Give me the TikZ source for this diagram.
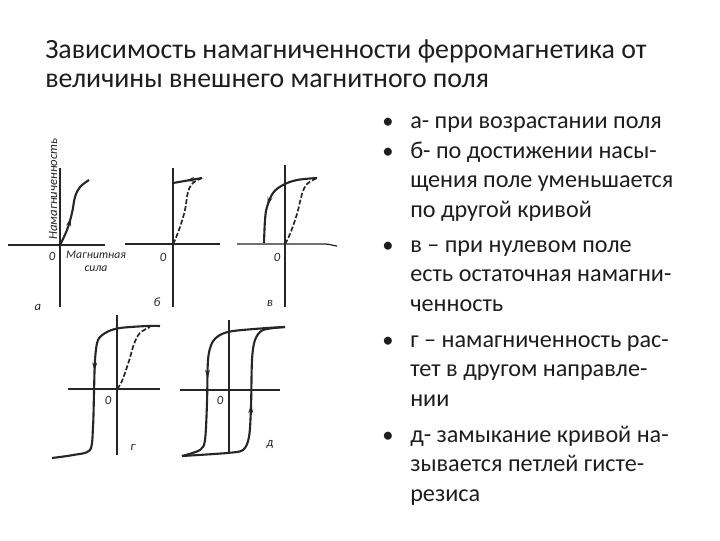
\documentclass[tikz,border=0pt]{standalone}
\usepackage{fontspec}
\setmainfont{Carlito}
\usetikzlibrary{arrows.meta,decorations.markings}
\definecolor{InkDark}{HTML}{1E1E1E}
\definecolor{InkPlot}{HTML}{262626}
\newcommand{\toplines}[1]{\begin{tabular}[t]{@{}l@{}}#1\end{tabular}}
\tikzset{
  titletext/.style={anchor=base west,inner sep=0pt,font=\fontsize{19.8}{21}\selectfont,text=InkDark},
  itemtext/.style={anchor=base west,inner sep=0pt,font=\fontsize{17.2}{21}\selectfont,text=InkDark},
  itemdot/.style={anchor=base west,inner sep=0pt,font=\fontsize{16}{21}\selectfont,text=InkDark},
  axisline/.style={draw=InkPlot,line width=0.9pt},
  loopline/.style={draw=InkPlot,line width=1.5pt},
  riseline/.style={draw=InkPlot,line width=1.2pt,dash pattern=on 3.5pt off 1.5pt},
  plotlabel/.style={inner sep=0pt,font=\itshape\fontsize{9}{10}\selectfont,text=InkPlot},
  midarrow/.style={postaction={decorate},decoration={markings,mark=at position #1 with {\arrow{Stealth[length=6pt,width=3.5pt]}}}}
}
\begin{document}
\begin{tikzpicture}[x=0.025cm,y=-0.025cm]
\fill[white] (0,0) rectangle (720,540);
\useasboundingbox (0,0) rectangle (720,540);
% title
\node[titletext] (title) at (45,58) {\toplines{Зависимость намагниченности ферромагнетика от\\величины внешнего магнитного поля}};
% list on the right
\node[itemtext] (i1) at (410,128) {\toplines{а- при возрастании поля}};
\node[itemtext] (i2) at (410,158) {\toplines{б- по достижении насы-\\щения поле уменьшается\\по другой кривой}};
\node[itemtext] (i3) at (410,252) {\toplines{в – при нулевом поле\\есть остаточная намагни-\\ченность}};
\node[itemtext] (i4) at (410,347) {\toplines{г – намагниченность рас-\\тет в другом направле-\\нии}};
\node[itemtext] (i5) at (410,442) {\toplines{д- замыкание кривой на-\\зывается петлей гисте-\\резиса}};
\foreach \n in {1,...,5}
  \node[itemdot] (d\n) at ([shift={(-28,0)}]i\n.base west) {•};
% graph a
\coordinate (Oa) at (60,245);
\begin{scope}[shift={(Oa)}]
\draw[axisline] (-52,0) -- (45,0);
\draw[axisline] (0,-77) -- (0,62);
\draw[loopline,midarrow=0.4] plot[smooth,tension=0.6] coordinates {(0,0) (7,-15) (12,-32) (15,-48) (20,-58) (29,-65)};
\node[plotlabel,rotate=90] (ya) at (-7,-56) {Намагниченность};
\node[plotlabel] (za) at (-8,11) {0};
\node[plotlabel,align=center,font=\itshape\fontsize{8.3}{9}\selectfont] (xa) at (36,16) {Магнитная\\сила};
\node[plotlabel] (la) at (-22,62) {а};
\end{scope}
% graph b
\coordinate (Ob) at (173,244);
\begin{scope}[shift={(Ob)}]
\draw[axisline] (-48,0) -- (47,0);
\draw[axisline] (0,-76) -- (0,63);
\draw[riseline] plot[smooth,tension=0.6] coordinates {(0,0) (2,-4) (7,-17) (12,-34) (15,-52) (20,-61) (29,-66)};
\draw[loopline,midarrow=0.55] (29,-66) -- (0,-61);
\node[plotlabel] (zb) at (-10,13) {0};
\node[plotlabel] (lb) at (-16,58) {б};
\end{scope}
% graph v
\coordinate (Ov) at (285,244);
\begin{scope}[shift={(Ov)}]
\draw[axisline] (-48,0) -- (40,0) to[out=0,in=175] (52,2);
\draw[axisline] (0,-79) -- (0,63);
\draw[riseline] plot[smooth,tension=0.6] coordinates {(0,0) (5,-10) (12,-30) (17,-50) (22,-60) (32,-66)};
\draw[loopline,midarrow=0.62] plot[smooth,tension=0.6] coordinates {(32,-66) (12,-64) (-2,-59) (-12,-51) (-18,-37) (-20,-24) (-21,-1)};
\node[plotlabel] (zv) at (-8,13) {0};
\node[plotlabel] (lv) at (-15,59) {в};
\end{scope}
% graph g
\coordinate (Og) at (117,389);
\begin{scope}[shift={(Og)}]
\draw[axisline] (-49,0) -- (43,0);
\draw[axisline] (0,-74) -- (0,66);
\draw[riseline] plot[smooth,tension=0.6] coordinates {(0,0) (5,-8) (12,-28) (17,-45) (23,-56) (33,-62)};
\draw[loopline,midarrow=0.45] plot[smooth,tension=0.5] coordinates {(43,-63) (30,-63) (3,-61) (-10,-57) (-19,-49) (-22,-29) (-23,4) (-24,38) (-27,61) (-44,66) (-65,69)};
\node[plotlabel] (zg) at (-9,11) {0};
\node[plotlabel] (lg) at (16,58) {г};
\end{scope}
% graph d
\coordinate (Od) at (229,390);
\begin{scope}[shift={(Od)}]
\draw[axisline] (-49,0) -- (51,0);
\draw[axisline] (0,-70) -- (0,62);
\draw[loopline,midarrow=0.55] plot[smooth,tension=0.5] coordinates {(56,-63) (38,-62) (4,-59) (-9,-55) (-17,-47) (-21,-30) (-22,13) (-24,50) (-29,60) (-47,66)};
\draw[loopline,midarrow=0.52] plot[smooth,tension=0.5] coordinates {(-47,66) (-2,63) (14,60) (20,47) (22,17) (23,-30) (26,-50) (34,-60) (56,-63)};
\node[plotlabel] (zd) at (-9,10) {0};
\node[plotlabel] (ld) at (41,55) {д};
\end{scope}
\end{tikzpicture}
\end{document}
